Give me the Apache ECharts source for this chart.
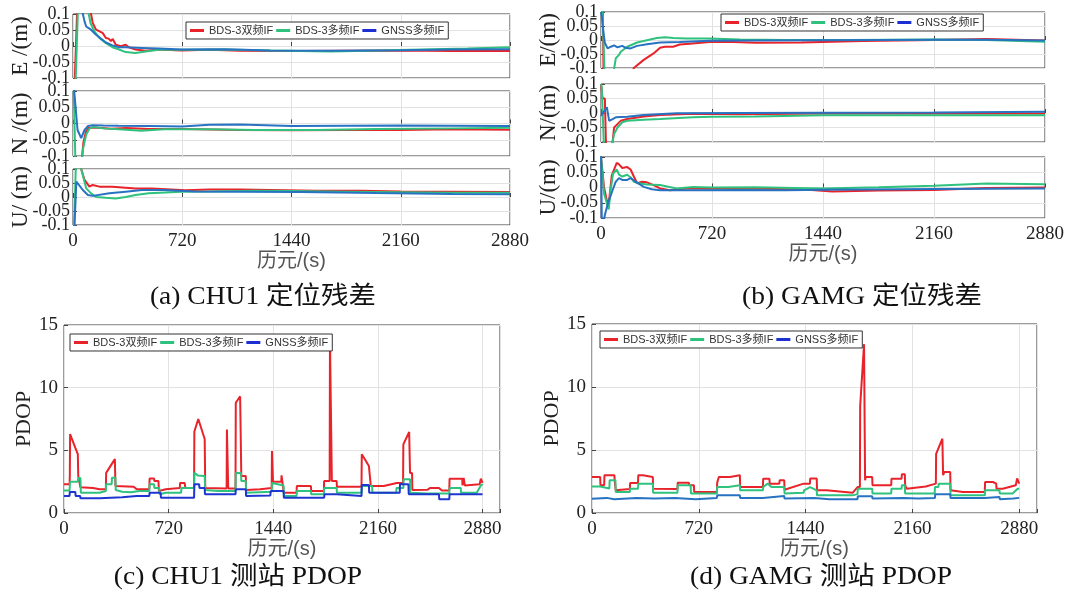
<!DOCTYPE html>
<html><head><meta charset="utf-8">
<script src="https://cdn.jsdelivr.net/npm/echarts@6/dist/echarts.min.js"></script>
<style>html,body{margin:0;padding:0;background:#fff}#c{width:1075px;height:596px}</style>
</head><body><div id="c"></div>
<script>
// ---------- labels ----------
const seriesNames = ['BDS-3双频IF', 'BDS-3多频IF', 'GNSS多频IF'];
const captions = ['(a) CHU1 定位残差', '(b) GAMG 定位残差', '(c) CHU1 测站 PDOP', '(d) GAMG 测站 PDOP'];
const xAxisName = '历元/(s)';
const yNamesA = ['E /(m)', 'N /(m)', 'U/ (m)'];
const yNamesB = ['E/(m)', 'N/(m)', 'U/(m)'];
const pdopName = 'PDOP';
const xTickStep = 720;      // 0,720,1440,2160,2880
const residRange = [-0.1, 0.1], residStep = 0.05;
const residLabelsMain = [-0.1, 0, 0.1];
const residLabelsHalf = [-0.05, 0.05];
const pdopRange = [0, 15], pdopStep = 5;

// ---------- (a) CHU1 residuals [epoch s, m] ----------
const aE_red = [[0,-0.3],[12,-0.1],[28,0.12],[60,0.3],[112,0.12],[119,0.1],[130,0.072],[152,0.051],[195,0.041],[217,0.025],[235,0.023],[250,0.015],[262,0.022],[282,0.004],[315,-0.001],[347,0.004],[368,-0.004],[412,-0.011],[477,-0.015],[564,-0.011],[716,-0.014],[900,-0.012],[1100,-0.015],[1440,-0.016],[1800,-0.015],[2160,-0.014],[2500,-0.016],[2880,-0.016]];
const aE_green = [[0,-0.3],[18,-0.1],[35,0.15],[70,0.3],[98,0.12],[104,0.1],[115,0.072],[141,0.046],[174,0.025],[217,0.009],[260,-0.004],[304,-0.011],[347,-0.019],[412,-0.022],[477,-0.017],[564,-0.012],[716,-0.012],[1000,-0.011],[1300,-0.014],[1700,-0.017],[2000,-0.014],[2300,-0.011],[2600,-0.008],[2880,-0.004]];
const aE_blue = [[0,0.3],[55,0.12],[65,0.1],[76,0.077],[87,0.061],[119,0.051],[152,0.035],[184,0.023],[217,0.011],[260,0.002],[304,-0.004],[347,-0.004],[455,-0.006],[564,-0.008],[716,-0.011],[1000,-0.01],[1300,-0.014],[1700,-0.015],[2160,-0.013],[2500,-0.011],[2880,-0.01]];
const aN_red = [[0,-0.3],[50,-0.15],[60,-0.1],[68,-0.06],[85,-0.025],[105,-0.013],[150,-0.012],[250,-0.016],[350,-0.014],[500,-0.017],[720,-0.017],[1100,-0.02],[1440,-0.021],[1800,-0.02],[2160,-0.02],[2500,-0.018],[2880,-0.019]];
const aN_green = [[0,0.2],[5,0.1],[15,-0.1],[28,-0.3],[55,-0.13],[62,-0.1],[67,-0.076],[87,-0.034],[108,-0.016],[130,-0.011],[200,-0.015],[300,-0.018],[450,-0.022],[600,-0.018],[900,-0.018],[1200,-0.02],[1600,-0.02],[2000,-0.017],[2500,-0.015],[2880,-0.013]];
const aN_blue = [[0,0.3],[8,0.1],[30,-0.02],[54,-0.045],[76,-0.02],[98,-0.008],[130,-0.005],[200,-0.006],[300,-0.007],[500,-0.008],[720,-0.009],[900,-0.004],[1100,-0.003],[1440,-0.008],[1800,-0.007],[2160,-0.006],[2500,-0.007],[2880,-0.008]];
const aU_red = [[0,0.3],[45,0.13],[54,0.1],[76,0.061],[108,0.037],[130,0.043],[174,0.037],[260,0.037],[347,0.033],[412,0.03],[520,0.03],[740,0.024],[900,0.027],[1100,0.027],[1300,0.025],[1600,0.022],[1900,0.022],[2160,0.02],[2500,0.019],[2880,0.018]];
const aU_green = [[0,-0.3],[8,-0.1],[18,0.1],[30,0.3],[50,0.12],[54,0.1],[87,0.031],[119,0.013],[152,0.0],[217,-0.003],[282,-0.005],[347,0.0],[412,0.007],[499,0.013],[608,0.016],[716,0.019],[900,0.02],[1200,0.022],[1440,0.021],[1800,0.019],[2160,0.017],[2500,0.015],[2880,0.015]];
const aU_blue = [[0,-0.3],[10,-0.1],[22,0.055],[33,0.061],[65,0.025],[98,0.007],[130,0.004],[239,0.013],[347,0.019],[455,0.025],[600,0.025],[800,0.02],[1100,0.019],[1500,0.018],[2000,0.014],[2500,0.011],[2880,0.01]];

// ---------- (b) GAMG residuals ----------
const bE_red = [[0,0.3],[8,0.12],[12,0.1],[16,-0.1],[30,-0.5],[200,-0.12],[213,-0.1],[277,-0.071],[341,-0.048],[383,-0.028],[415,-0.024],[468,-0.024],[511,-0.016],[575,-0.013],[703,-0.007],[810,-0.006],[1000,-0.01],[1300,-0.009],[1700,-0.004],[2160,0.0],[2500,0.004],[2880,-0.002]];
const bE_green = [[0,0.12],[10,0.1],[22,-0.1],[40,-0.3],[80,-0.12],[86,-0.1],[96,-0.065],[117,-0.053],[128,-0.042],[170,-0.024],[234,-0.009],[298,-0.001],[362,0.007],[415,0.01],[468,0.007],[554,0.005],[703,0.005],[900,0.002],[1200,0.0],[1600,0.0],[2160,0.002],[2500,0.0],[2880,-0.006]];
const bE_blue = [[0,0.1],[5,0.085],[15,0.03],[25,-0.01],[43,-0.03],[64,-0.024],[85,-0.019],[107,-0.026],[138,-0.021],[160,-0.028],[192,-0.03],[234,-0.021],[298,-0.015],[383,-0.009],[511,-0.007],[703,-0.003],[1000,-0.002],[1440,-0.001],[1800,0.0],[2160,0.001],[2500,0.001],[2880,-0.002]];
const bN_red = [[0,0.1],[10,0.05],[25,0.05],[32,-0.1],[40,-0.3],[68,-0.12],[75,-0.1],[85,-0.05],[128,-0.027],[170,-0.021],[277,-0.012],[383,-0.007],[596,-0.003],[900,-0.004],[1440,-0.002],[2160,-0.002],[2880,-0.002]];
const bN_green = [[0,0.1],[5,0.089],[18,-0.1],[30,-0.3],[68,-0.12],[75,-0.1],[85,-0.073],[107,-0.05],[138,-0.032],[170,-0.027],[277,-0.023],[383,-0.021],[596,-0.015],[720,-0.013],[1000,-0.012],[1440,-0.008],[2160,-0.008],[2880,-0.008]];
const bN_blue = [[0,-0.01],[10,-0.009],[38,0.02],[53,-0.027],[75,-0.021],[96,-0.015],[170,-0.013],[277,-0.007],[490,-0.001],[900,0.0],[1440,0.001],[2160,0.002],[2880,0.004]];
const bU_red = [[0,0.1],[20,0.0],[45,-0.06],[55,-0.03],[70,0.04],[102,0.081],[117,0.076],[138,0.064],[170,0.067],[192,0.059],[213,0.036],[234,0.014],[266,0.019],[298,0.017],[341,0.008],[383,-0.003],[447,-0.009],[554,-0.003],[720,-0.003],[1000,-0.004],[1300,-0.006],[1500,-0.013],[1800,-0.01],[2160,-0.008],[2500,-0.002],[2880,0.0]];
const bU_green = [[0,0.1],[20,-0.02],[50,-0.072],[62,-0.01],[78,0.045],[102,0.059],[117,0.042],[138,0.036],[170,0.042],[192,0.033],[213,0.019],[245,0.014],[298,0.01],[383,0.008],[490,-0.003],[596,0.002],[720,0.0],[1000,0.001],[1440,-0.003],[1800,0.001],[2160,0.006],[2500,0.013],[2880,0.011]];
const bU_blue = [[0,0.15],[6,-0.15],[25,-0.09],[45,-0.052],[75,-0.009],[96,0.019],[117,0.031],[138,0.025],[170,0.025],[192,0.031],[224,0.019],[277,0.002],[330,-0.006],[383,-0.009],[596,-0.009],[900,-0.008],[1200,-0.009],[1440,-0.007],[2160,-0.005],[2880,-0.003]];

// ---------- (c) CHU1 PDOP ----------
const cRed = [[0,2.3],[38,2.3],[40,2.95],[42,6.3],[55,5.9],[78,5.2],[95,4.7],[98,2.95],[111,2.95],[113,2.05],[200,2.0],[244,1.9],[288,1.9],[290,3.2],[350,4.3],[354,2.15],[480,2.1],[500,1.9],[587,1.9],[589,2.75],[620,2.75],[622,2.55],[650,2.55],[653,1.75],[700,1.9],[797,2.0],[799,2.4],[830,2.4],[835,2.0],[895,2.0],[897,6.5],[924,7.5],[968,5.9],[972,2.0],[1119,1.95],[1121,6.67],[1128,6.67],[1130,1.95],[1180,1.95],[1182,8.8],[1212,9.3],[1218,9.3],[1220,2.95],[1251,2.95],[1253,1.83],[1350,1.9],[1429,2.0],[1431,4.95],[1436,4.95],[1438,2.5],[1495,2.5],[1497,3.0],[1510,3.0],[1512,1.62],[1600,1.62],[1602,2.15],[1699,2.15],[1701,1.75],[1788,1.75],[1790,2.55],[1828,2.55],[1830,13.86],[1841,13.86],[1843,2.55],[1876,2.55],[1878,2.1],[2047,2.1],[2049,4.68],[2098,3.75],[2109,3.75],[2111,2.15],[2200,2.15],[2290,2.4],[2333,2.4],[2335,5.48],[2375,6.46],[2381,3.2],[2395,3.2],[2397,1.83],[2500,1.85],[2520,2.0],[2580,2.0],[2600,1.8],[2651,1.8],[2653,2.74],[2740,2.74],[2742,2.2],[2750,2.8],[2758,2.2],[2860,2.3],[2868,2.74],[2880,2.4]];
const cGreen = [[0,1.8],[38,1.8],[42,2.5],[95,2.5],[98,2.8],[113,2.8],[116,1.62],[244,1.62],[288,1.75],[290,2.29],[328,2.29],[330,2.82],[354,2.82],[356,1.83],[400,1.7],[460,1.65],[520,1.75],[587,1.75],[589,2.29],[620,2.29],[622,2.0],[655,2.0],[658,1.5],[700,1.62],[806,1.62],[808,2.0],[895,2.0],[897,3.2],[920,3.0],[968,2.95],[972,1.83],[1060,1.75],[1180,1.75],[1182,3.2],[1218,3.2],[1220,2.55],[1251,2.55],[1253,1.62],[1429,1.7],[1431,2.4],[1511,2.2],[1513,1.36],[1600,1.36],[1602,1.75],[1699,1.75],[1701,1.5],[1788,1.5],[1790,2.0],[1876,2.0],[1878,1.62],[2047,1.62],[2049,2.15],[2120,2.15],[2122,1.62],[2286,1.62],[2288,2.0],[2335,2.0],[2337,2.69],[2381,2.69],[2383,1.62],[2500,1.55],[2651,1.55],[2653,2.0],[2730,2.0],[2732,1.62],[2840,1.62],[2873,2.29],[2880,2.2]];
const cBlue = [[0,1.36],[38,1.36],[40,1.68],[78,1.68],[80,1.36],[111,1.36],[113,1.17],[244,1.17],[246,1.3],[400,1.25],[500,1.36],[587,1.36],[589,1.62],[665,1.62],[667,1.22],[895,1.22],[897,2.29],[930,2.29],[932,2.0],[968,2.0],[970,1.49],[1180,1.49],[1182,1.9],[1251,1.9],[1253,1.36],[1420,1.4],[1422,1.75],[1511,1.75],[1513,1.22],[1790,1.22],[1792,1.49],[1876,1.49],[1878,1.36],[2047,1.36],[2049,2.23],[2098,2.23],[2100,1.62],[2310,1.62],[2312,2.29],[2370,2.29],[2372,1.49],[2580,1.49],[2582,1.09],[2651,1.09],[2653,1.49],[2880,1.49]];

// ---------- (d) GAMG PDOP ----------
const dRed = [[0,2.86],[55,2.86],[57,2.2],[82,2.2],[84,2.99],[151,2.99],[153,2.59],[158,2.59],[160,1.8],[255,1.9],[257,2.38],[310,2.38],[312,2.99],[343,2.99],[345,2.86],[410,2.86],[412,1.93],[576,1.9],[578,2.41],[653,2.41],[655,2.2],[687,2.2],[689,1.67],[842,1.67],[844,2.41],[853,2.41],[855,2.86],[930,2.86],[932,2.99],[997,2.99],[999,2.06],[1152,2.06],[1154,2.72],[1196,2.72],[1198,2.33],[1263,2.33],[1265,2.6],[1296,2.6],[1298,1.85],[1427,2.33],[1469,2.33],[1471,2.74],[1515,2.74],[1517,1.8],[1581,1.8],[1583,1.67],[1757,1.6],[1790,2.06],[1806,2.06],[1808,8.5],[1834,13.4],[1839,13.4],[1841,2.6],[1845,2.86],[1889,2.86],[1891,2.2],[2017,2.2],[2019,2.72],[2087,2.72],[2089,3.07],[2109,3.07],[2111,2.2],[2120,2.2],[2122,1.93],[2250,2.1],[2318,2.33],[2320,4.7],[2362,5.9],[2365,5.9],[2367,3.0],[2375,3.25],[2415,3.25],[2417,1.8],[2500,1.67],[2648,1.67],[2650,2.46],[2703,2.46],[2705,2.33],[2725,2.33],[2727,1.93],[2769,1.93],[2857,2.2],[2866,2.74],[2880,2.33]];
const dGreen = [[0,2.1],[55,2.1],[57,1.95],[117,1.95],[119,2.6],[158,2.6],[160,1.67],[255,1.67],[257,1.93],[310,1.93],[312,2.33],[410,2.33],[412,1.6],[576,1.6],[578,2.2],[665,2.2],[667,1.55],[842,1.55],[844,2.06],[919,2.06],[921,2.2],[997,2.2],[999,1.8],[1152,1.8],[1154,2.06],[1185,2.33],[1210,2.06],[1296,2.06],[1298,1.55],[1427,1.6],[1429,1.8],[1470,2.06],[1515,1.8],[1517,1.4],[1757,1.4],[1790,1.5],[1792,1.93],[1889,1.93],[1891,1.55],[2017,1.55],[2019,1.93],[2087,1.93],[2089,2.2],[2109,2.2],[2111,1.55],[2310,1.55],[2312,2.06],[2335,2.06],[2337,2.33],[2415,2.33],[2417,1.4],[2648,1.4],[2650,1.8],[2747,1.8],[2749,1.55],[2835,1.55],[2870,1.93],[2880,1.93]];
const dBlue = [[0,1.14],[100,1.2],[150,1.1],[300,1.2],[420,1.15],[560,1.2],[700,1.1],[842,1.2],[844,1.4],[997,1.4],[999,1.2],[1152,1.2],[1154,1.35],[1296,1.35],[1298,1.15],[1500,1.2],[1600,1.1],[1790,1.1],[1792,1.32],[1889,1.32],[1891,1.15],[2100,1.2],[2200,1.15],[2312,1.2],[2314,1.48],[2415,1.48],[2417,1.2],[2648,1.2],[2650,1.27],[2747,1.27],[2749,1.1],[2840,1.15],[2880,1.2]];

// ---------- styling / layout ----------
const RED = '#e8232a', GREEN = '#2ec27e', BLUE = '#2872c2', NAVY = '#1f35d0';
const LEGEND_BLUE = '#1c2fd2';
const SERIF = '"Liberation Serif","Times New Roman",serif';
const SANS = '"Liberation Sans","Noto Sans CJK SC",sans-serif';
const CAP = '"Liberation Serif","Noto Sans CJK SC",serif';

const grids = [], xAxes = [], yAxes = [], series = [];

function addPanel(box, kind, yName, showX, lines, blue) {
  const gi = grids.length;
  grids.push({left: box[0], top: box[1], width: box[2], height: box[3], show: true,
    borderColor: '#3a3a3a', borderWidth: 1, backgroundColor: '#fff', containLabel: false});
  const pd = kind === 'pdop';
  xAxes.push({type: 'value', gridIndex: gi, min: 0, max: pd ? 3000 : 2880, interval: xTickStep,
    axisLine: {show: false},
    axisTick: {show: true, inside: true, length: 4, lineStyle: {color: '#444'}},
    axisLabel: {show: showX, fontFamily: SERIF, fontSize: 19, color: '#222', margin: 7,
      showMinLabel: true, showMaxLabel: true,
      formatter: v => (v % xTickStep === 0 ? String(v) : '')},
    splitLine: {show: true, lineStyle: {color: '#e2e2e2', width: 1}},
    name: showX ? xAxisName : '', nameLocation: 'middle', nameGap: pd ? 25 : 22,
    nameTextStyle: {fontFamily: SANS, fontSize: 20, color: '#555'}});
  const yi = yAxes.length;
  const baseY = {type: 'value', gridIndex: gi,
    min: pd ? pdopRange[0] : residRange[0], max: pd ? pdopRange[1] : residRange[1],
    interval: pd ? pdopStep : residStep, position: 'left'};
  yAxes.push(Object.assign({}, baseY, {
    axisLine: {show: false},
    axisTick: {show: true, inside: true, length: 4, lineStyle: {color: '#444'}},
    axisLabel: Object.assign({fontFamily: SERIF, fontSize: pd ? 19 : 18, color: '#222', margin: pd ? 6 : 3,
      showMinLabel: true, showMaxLabel: true}, pd ? {} : {customValues: residLabelsMain}),
    splitLine: {show: true, lineStyle: {color: '#e2e2e2', width: 1}},
    name: yName, nameLocation: 'middle', nameRotate: 90, nameGap: pd ? 21 : 41,
    nameTextStyle: {fontFamily: SERIF, fontSize: pd ? 22 : 23, color: '#222'}}));
  if (!pd) {
    // second label layer for the half-step ticks (same scale, same side)
    yAxes.push(Object.assign({}, baseY, {
      axisLine: {show: false}, axisTick: {show: false}, splitLine: {show: false},
      axisLabel: {fontFamily: SERIF, fontSize: 18, color: '#222', margin: 3,
        customValues: residLabelsHalf, showMinLabel: true, showMaxLabel: true}}));
  }
  const cols = [RED, GREEN, blue || BLUE];
  lines.forEach((d, i) => {
    series.push({type: 'line', name: seriesNames[i], xAxisIndex: gi, yAxisIndex: yi, data: d,
      showSymbol: false, symbol: 'none', clip: true, z: 2 + i,
      itemStyle: {color: i === 2 ? LEGEND_BLUE : cols[i]},
      lineStyle: {color: cols[i], width: 2}});
  });
}

// panel (a)
addPanel([73, 14, 437, 64], 'res', yNamesA[0], false, [aE_red, aE_green, aE_blue]);
addPanel([73, 91, 437, 65], 'res', yNamesA[1], false, [aN_red, aN_green, aN_blue]);
addPanel([73, 169, 437, 56], 'res', yNamesA[2], true, [aU_red, aU_green, aU_blue]);
// panel (b)
addPanel([601, 12, 444, 56], 'res', yNamesB[0], false, [bE_red, bE_green, bE_blue]);
addPanel([601, 84, 444, 58], 'res', yNamesB[1], false, [bN_red, bN_green, bN_blue]);
addPanel([601, 157, 444, 61], 'res', yNamesB[2], true, [bU_red, bU_green, bU_blue]);
// panel (c), (d)
addPanel([64, 325, 436, 188], 'pdop', pdopName, true, [cRed, cGreen, cBlue], NAVY);
addPanel([592, 324, 445, 189], 'pdop', pdopName, true, [dRed, dGreen, dBlue], BLUE);

function legendAt(left, top) {
  return {left, top, orient: 'horizontal', data: seriesNames, icon: 'rect', itemWidth: 14, itemHeight: 3,
    itemGap: 3, padding: [3, 4], borderColor: '#333', borderWidth: 1, backgroundColor: '#fff',
    textStyle: {fontFamily: SANS, fontSize: 11, color: '#333'}, selectedMode: false, z: 10};
}

const capPos = [[263, 297], [862, 297], [238, 577], [821, 577]];
const graphic = captions.map((t, i) => ({type: 'text', x: capPos[i][0], y: capPos[i][1], z: 20,
  scaleX: 1.1,
  style: {text: t, font: '25px ' + CAP, fill: '#111', textAlign: 'center', textVerticalAlign: 'middle'}}));

const chart = echarts.init(document.getElementById('c'), null, {renderer: 'canvas'});
chart.setOption({
  animation: false, backgroundColor: '#fff',
  grid: grids, xAxis: xAxes, yAxis: yAxes, series,
  legend: [legendAt(186, 22), legendAt(721, 14), legendAt(70, 334), legendAt(600, 331)],
  graphic
});
</script></body></html>
